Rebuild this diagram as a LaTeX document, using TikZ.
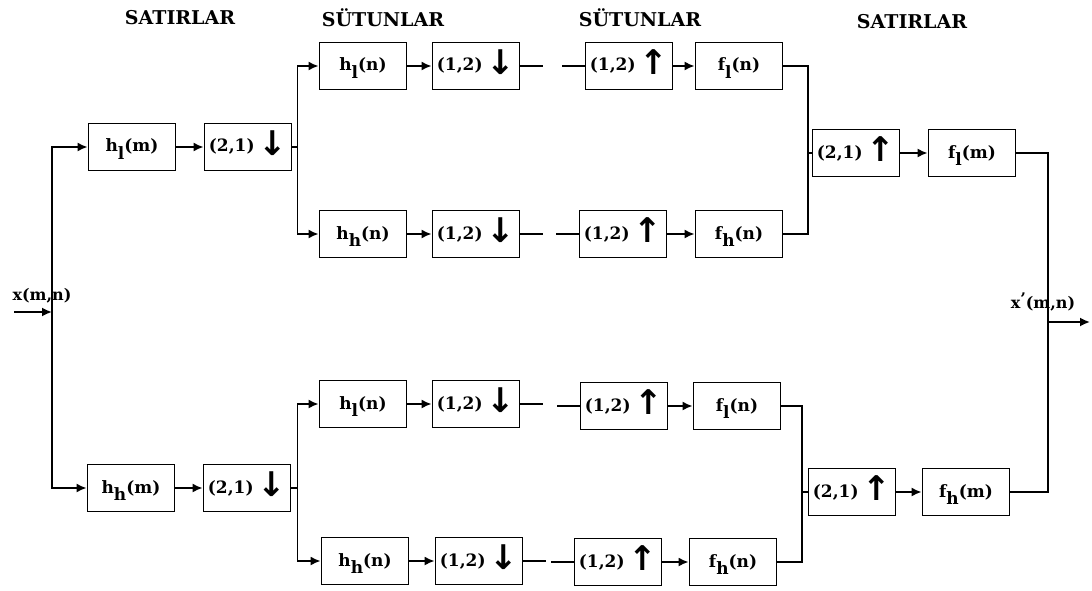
\documentclass[tikz,border=0pt]{standalone}
\usepackage{fontspec}
\setmainfont{DejaVu Serif}
\newfontfamily\arrfont{DejaVu Sans}
\usetikzlibrary{arrows.meta}
\newcommand\sbx[1]{\raisebox{-0.42em}{#1}}
\newcommand\dnar{\kern4pt\raisebox{-0.2em}{\arrfont\bfseries\fontsize{34}{34}\selectfont ↓}}
\newcommand\upar{\kern4pt\raisebox{-0.2em}{\arrfont\bfseries\fontsize{34}{34}\selectfont ↑}}
\tikzset{
  blk/.style={draw, line width=1.8pt, minimum width=87pt, minimum height=47pt, inner sep=0pt,
    text height=13pt, text depth=3pt, font=\fontsize{17}{20}\selectfont\bfseries},
  wire/.style={line width=1.8pt},
  arr/.style={wire, -{Latex[length=10pt,width=9pt]}},
  ttl/.style={font=\fontsize{19}{22}\selectfont\bfseries},
  lbl/.style={font=\fontsize{16}{18}\selectfont\bfseries, inner sep=0pt},
}
\begin{document}
\begin{tikzpicture}[x=1pt,y=-1pt]
\useasboundingbox (0,0) rectangle (1092,591);
% titles
\node[ttl] (t1) at (180,18) {SATIRLAR};
\node[ttl] (t2) at (383,18) {SÜTUNLAR};
\node[ttl] (t3) at (640,18) {SÜTUNLAR};
\node[ttl] (t4) at (912,22) {SATIRLAR};
% first stage
\node[blk] (hlm) at (132,147) {h\sbx{l}(m)};
\node[blk] (d21a) at (248,147) {(2,1)\dnar};
\node[blk] (hhm) at (131,488) {h\sbx{h}(m)};
\node[blk] (d21b) at (247,488) {(2,1)\dnar};
% top group
\node[blk] (hln1) at (363,66) {h\sbx{l}(n)};
\node[blk] (d12a) at (476,66) {(1,2)\dnar};
\node[blk] (u12a) at (629,66) {(1,2)\upar};
\node[blk] (fln1) at (739,66) {f\sbx{l}(n)};
\node[blk] (hhn1) at (363,234) {h\sbx{h}(n)};
\node[blk] (d12b) at (476,234) {(1,2)\dnar};
\node[blk] (u12b) at (623,234) {(1,2)\upar};
\node[blk] (fhn1) at (739,234) {f\sbx{h}(n)};
\node[blk] (u21a) at (856,153) {(2,1)\upar};
\node[blk] (flm) at (972,153) {f\sbx{l}(m)};
% bottom group
\node[blk] (hln2) at (363,404) {h\sbx{l}(n)};
\node[blk] (d12c) at (476,404) {(1,2)\dnar};
\node[blk] (u12c) at (624,406) {(1,2)\upar};
\node[blk] (fln2) at (737,406) {f\sbx{l}(n)};
\node[blk] (hhn2) at (365,561) {h\sbx{h}(n)};
\node[blk] (d12d) at (479,561) {(1,2)\dnar};
\node[blk] (u12d) at (618,562) {(1,2)\upar};
\node[blk] (fhn2) at (733,562) {f\sbx{h}(n)};
\node[blk] (u21b) at (852,492) {(2,1)\upar};
\node[blk] (fhm) at (966,492) {f\sbx{h}(m)};
% labels
\node[lbl] (xin) at (42,296) {x(m,n)};
\node[lbl] (xout) at (1043,302) {x\raisebox{0.2em}{'}(m,n)};
% input
\coordinate (in) at (14,312);
\coordinate (sp0) at (52,312);
\draw[arr] (in) -- (sp0);
\draw[arr] (sp0) |- (hlm.west);
\draw[arr] (sp0) |- (hhm.west);
\draw[arr] (hlm) -- (d21a);
\draw[arr] (hhm) -- (d21b);
% top split
\coordinate (sp1) at ([xshift=5pt]d21a.east);
\draw[wire] (d21a.east) -- (sp1);
\draw[arr] (sp1) |- (hln1.west);
\draw[arr] (sp1) |- (hhn1.west);
\draw[arr] (hln1) -- (d12a);
\draw[arr] (hhn1) -- (d12b);
\draw[wire] (d12a.east) -- ++(23,0);
\draw[wire] (u12a.west) -- ++(-23,0);
\draw[wire] (d12b.east) -- ++(23,0);
\draw[wire] (u12b.west) -- ++(-23,0);
\draw[arr] (u12a) -- (fln1);
\draw[arr] (u12b) -- (fhn1);
\coordinate (mg1) at ([xshift=-4pt]u21a.west);
\draw[wire] (fln1.east) -| (mg1) |- (fhn1.east);
\draw[wire] (mg1) -- (u21a.west);
\draw[arr] (u21a) -- (flm);
% bottom split
\coordinate (sp2) at ([xshift=6pt]d21b.east);
\draw[wire] (d21b.east) -- (sp2);
\draw[arr] (sp2) |- (hln2.west);
\draw[arr] (sp2) |- (hhn2.west);
\draw[arr] (hln2) -- (d12c);
\draw[arr] (hhn2) -- (d12d);
\draw[wire] (d12c.east) -- ++(23,0);
\draw[wire] (u12c.west) -- ++(-23,0);
\draw[wire] (d12d.east) -- ++(23,0);
\draw[wire] (u12d.west) -- ++(-23,0);
\draw[arr] (u12c) -- (fln2);
\draw[arr] (u12d) -- (fhn2);
\coordinate (mg2) at ([xshift=-6pt]u21b.west);
\draw[wire] (fln2.east) -| (mg2) |- (fhn2.east);
\draw[wire] (mg2) -- (u21b.west);
\draw[arr] (u21b) -- (fhm);
% output
\coordinate (out) at (1048,322);
\coordinate (outend) at (1090,322);
\draw[wire] (flm.east) -| (out) |- (fhm.east);
\draw[arr] (out) -- (outend);
\end{tikzpicture}
\end{document}
